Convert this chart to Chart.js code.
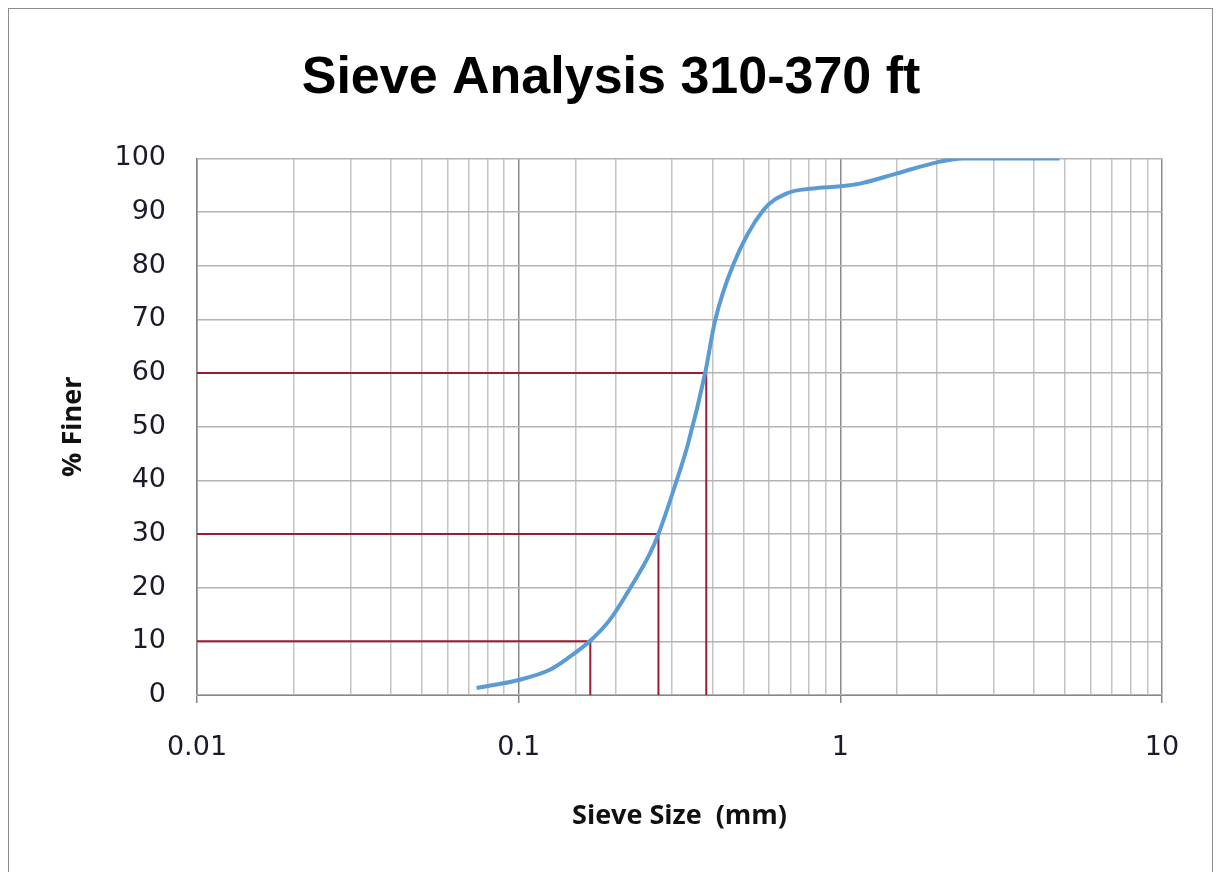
<!DOCTYPE html>
<html>
<head>
<meta charset="utf-8">
<script src="https://cdn.jsdelivr.net/npm/chart.js@4/dist/chart.umd.min.js"></script>
<style>
    html, body { margin: 0; padding: 0; background: #fff; overflow: hidden; }
    #frame { position: absolute; left: 8px; top: 8px; width: 1203px; height: 900px; border: 1px solid #8c8c8c; }
    #wrap { position: absolute; left: 0; top: 0; width: 1217px; height: 872px; }
</style>
</head>
<body>
<div id="frame"></div>
<div id="wrap"><canvas id="sieveChart" width="1217" height="872"></canvas></div>
<script>
// grain size curve
const sieveSize = [0.074, 0.1, 0.125, 0.144, 0.1676, 0.192, 0.222, 0.256, 0.272, 0.31, 0.335, 0.38, 0.4077, 0.4638, 0.575, 0.683, 0.822, 1.0, 1.15, 1.5, 2.04, 2.4, 4.8];
const percentFiner = [1.3, 2.8, 4.7, 7.1, 10.2, 14, 19.9, 26.4, 30, 40, 46.5, 60, 69.7, 80.1, 90.3, 93.5, 94.4, 94.8, 95.3, 97.2, 99.4, 100, 100];

// D10, D30, D60 guide lines
const guidePercent = [10, 30, 60];
const guideSize = [0.167, 0.272, 0.383];

const xMin = 0.01;
const xMax = 10;
const decadeLabels = ["0.01", "0.1", "1", "10"];

function isDecade(v) {
    const l = Math.log10(v);
    return Math.abs(l - Math.round(l)) < 1e-6;
}

const curve = {
    label: "% Finer",
    data: sieveSize.map((s, i) => ({ x: s, y: percentFiner[i] })),
    borderColor: "#5b9bd5",
    borderWidth: 4,
    pointRadius: 0,
    cubicInterpolationMode: "monotone",
    order: 0
};

const guides = guidePercent.map((p, i) => ({
    label: "D" + p,
    data: [{ x: xMin, y: p }, { x: guideSize[i], y: p }, { x: guideSize[i], y: 0 }],
    borderColor: "#9e1b32",
    borderWidth: 2,
    pointRadius: 0,
    tension: 0,
    order: 1
}));

const tickFont = { family: "'DejaVu Sans', sans-serif", size: 27 };
const axisTitleFont = { family: "'Open Sans', sans-serif", size: 27, weight: "bold" };

new Chart(document.getElementById("sieveChart"), {
    type: "line",
    data: { datasets: [curve, ...guides] },
    options: {
        responsive: false,
        animation: false,
        layout: { padding: { left: 5, right: 0, top: 0, bottom: 0 } },
        plugins: {
            legend: { display: false },
            tooltip: { enabled: false },
            title: {
                display: true,
                text: "Sieve Analysis 310-370 ft",
                color: "#000",
                font: { family: "'Liberation Sans', sans-serif", size: 52, weight: "bold" },
                padding: { top: 47, bottom: 49 }
            }
        },
        scales: {
            x: {
                type: "logarithmic",
                min: xMin,
                max: xMax,
                afterFit: scale => { scale.height = 177; },
                border: { color: "#878787", width: 1 },
                grid: {
                    drawTicks: true,
                    tickLength: 8,
                    color: ctx => (ctx.tick && isDecade(ctx.tick.value)) ? "#8a8a8a" : "#c4c4c4",
                    tickColor: ctx => (ctx.tick && isDecade(ctx.tick.value)) ? "#878787" : "rgba(0,0,0,0)",
                    lineWidth: 1.5
                },
                ticks: {
                    autoSkip: false,
                    maxRotation: 0,
                    padding: 29,
                    color: "#1a1a2a",
                    font: tickFont,
                    callback: function (value) {
                        if (!isDecade(value)) return "";
                        return decadeLabels[Math.round(Math.log10(value)) + 2];
                    }
                },
                title: {
                    display: true,
                    text: "Sieve Size  (mm)",
                    color: "#111",
                    font: axisTitleFont,
                    padding: { top: 0, bottom: 39 }
                }
            },
            y: {
                min: 0,
                max: 100,
                afterFit: scale => { scale.width = 192; },
                border: { color: "#878787", width: 1.5 },
                grid: { drawTicks: false, color: "#b4b4b4", lineWidth: 1.5 },
                ticks: {
                    stepSize: 10,
                    padding: 31,
                    color: "#1a1a2a",
                    font: tickFont
                },
                title: {
                    display: true,
                    text: "% Finer",
                    color: "#111",
                    font: axisTitleFont,
                    padding: { top: 52, bottom: 0 }
                }
            },
            // empty strip on the right so the title centres like the original
            yRight: {
                position: "right",
                afterFit: scale => { scale.width = 55; },
                grid: { display: false },
                border: { display: false },
                ticks: { display: false }
            }
        }
    }
});
</script>
</body>
</html>
